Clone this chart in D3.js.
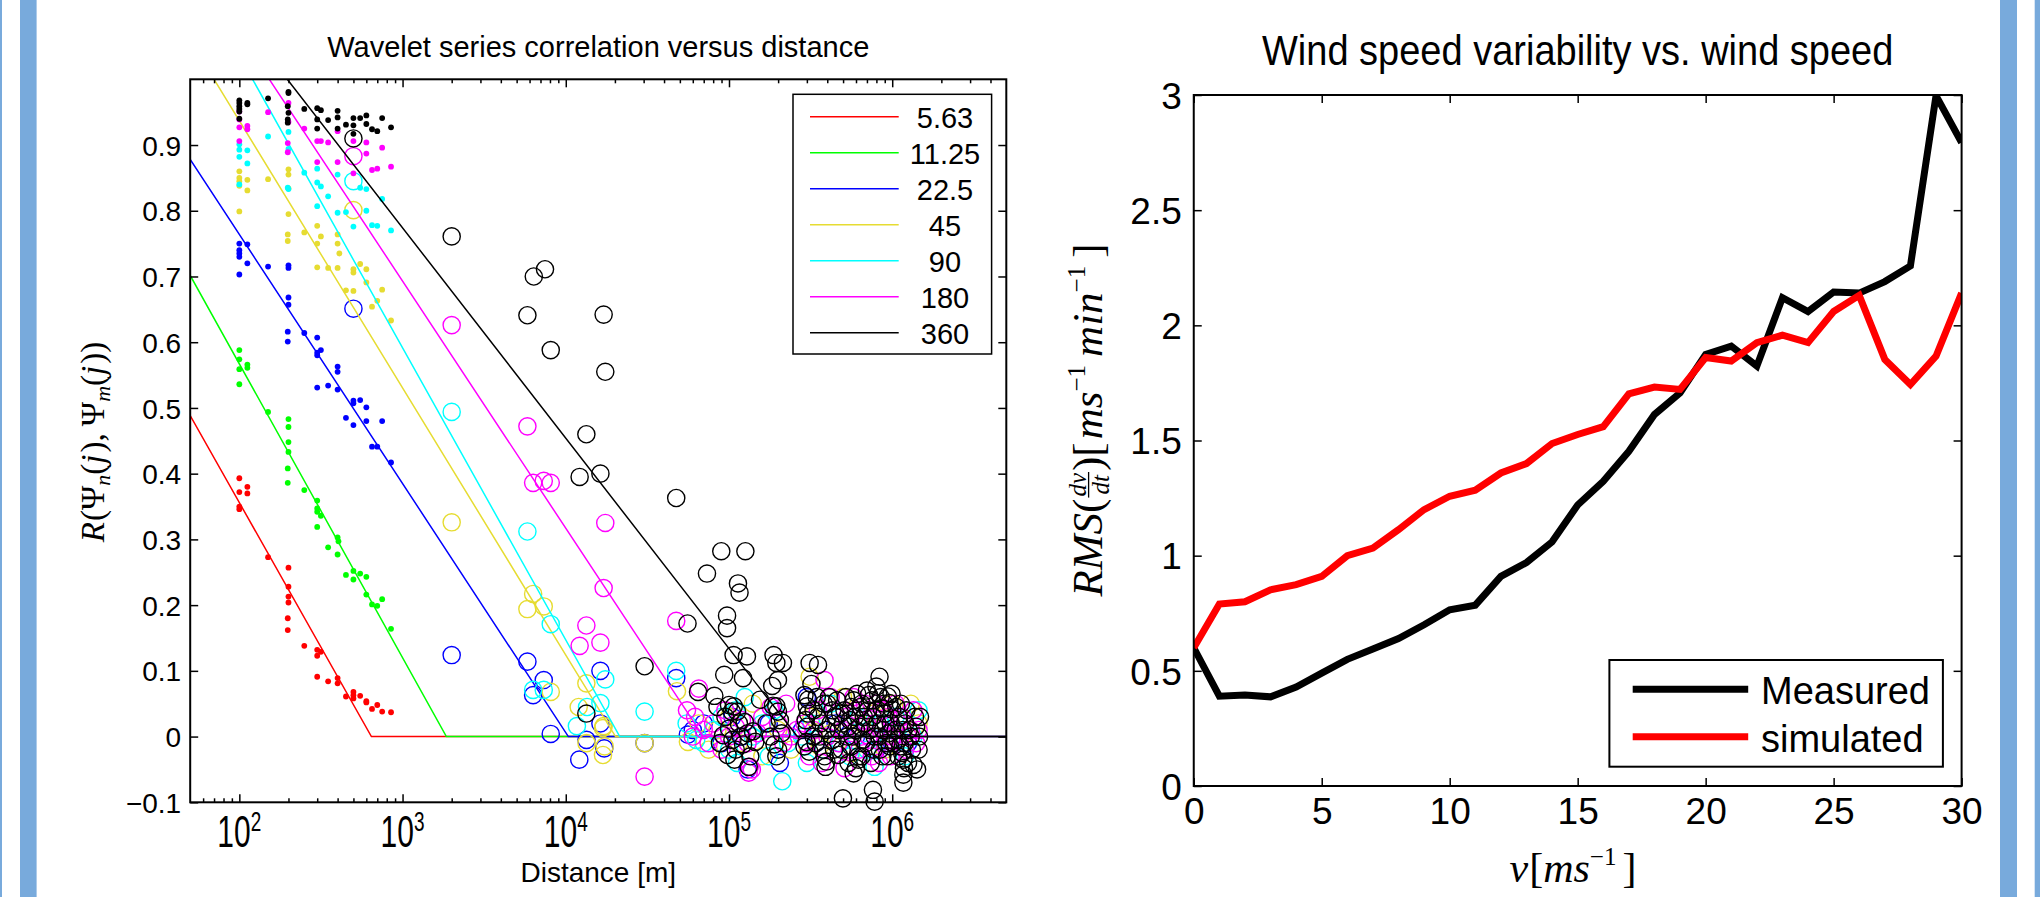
<!DOCTYPE html>
<html><head><meta charset="utf-8">
<script src="https://cdn.jsdelivr.net/npm/d3@7"></script>
<style>
body{margin:0;background:#fff;}
svg{display:block;}
text{fill:#000;}
</style>
</head><body>
<svg id="c" width="2040" height="897" font-family="'Liberation Sans',Arial,sans-serif"></svg>
<script>
// ---------------- DATA ----------------
const scaleNames = ["5.63","11.25","22.5","45","90","180","360"];
const seriesColors = ["#ff0000","#00ff00","#0000ff","#e6dc32","#00ffff","#ff00ff","#000000"];
// regression fits: value = intercept - slope*log10(d), floored at 0
const fitIntercept = [1.236,1.461,1.522,1.750,1.925,1.821,1.734];
const fitSlope = [0.440,0.447,0.379,0.4065,0.4445,0.376,0.320];

const dotsRed = [[100,0.393],[100,0.372],[100,0.350],[100,0.346],[112,0.380],[112,0.370],[150,0.273],[200,0.257],[200,0.228],[200,0.213],[200,0.204],[198,0.180],[198,0.162],[250,0.138],[300,0.132],[300,0.123],[300,0.091],[316,0.129],[350,0.084],[400,0.089],[400,0.081],[450,0.061],[500,0.068],[500,0.063],[500,0.058],[550,0.062],[600,0.054],[600,0.052],[650,0.042],[700,0.048],[750,0.038],[850,0.037]];
const dotsGreen = [[100,0.588],[100,0.574],[100,0.559],[100,0.536],[112,0.566],[112,0.561],[150,0.494],[200,0.483],[200,0.471],[200,0.448],[200,0.433],[198,0.408],[198,0.386],[250,0.375],[300,0.359],[300,0.347],[300,0.342],[300,0.319],[316,0.336],[350,0.288],[400,0.303],[405,0.297],[400,0.277],[450,0.246],[500,0.252],[500,0.239],[550,0.248],[600,0.243],[600,0.216],[650,0.201],[700,0.199],[750,0.209],[850,0.164]];
const dotsBlue = [[100,0.750],[100,0.740],[100,0.735],[100,0.730],[100,0.703],[112,0.749],[112,0.720],[150,0.715],[200,0.717],[200,0.713],[200,0.668],[200,0.657],[198,0.616],[198,0.601],[250,0.614],[300,0.607],[300,0.584],[300,0.580],[300,0.531],[316,0.588],[350,0.534],[400,0.563],[400,0.555],[400,0.528],[450,0.485],[500,0.511],[500,0.507],[500,0.474],[550,0.512],[600,0.501],[600,0.480],[650,0.441],[700,0.441],[750,0.480],[850,0.417]];
const dotsYellow = [[100,0.860],[100,0.850],[100,0.845],[100,0.838],[100,0.799],[112,0.847],[112,0.831],[150,0.848],[200,0.863],[200,0.855],[200,0.834],[200,0.795],[198,0.764],[198,0.754],[250,0.767],[300,0.777],[300,0.750],[300,0.714],[316,0.761],[350,0.713],[400,0.764],[400,0.750],[400,0.713],[410,0.735],[450,0.679],[500,0.711],[500,0.706],[500,0.678],[550,0.719],[600,0.711],[600,0.691],[650,0.654],[700,0.663],[750,0.680],[850,0.633]];
const dotsCyan = [[100,0.901],[100,0.893],[100,0.882],[100,0.840],[112,0.892],[112,0.872],[150,0.913],[200,0.920],[200,0.894],[198,0.835],[200,0.833],[250,0.858],[300,0.864],[300,0.807],[300,0.843],[316,0.837],[350,0.822],[400,0.855],[400,0.797],[450,0.798],[500,0.776],[550,0.835],[600,0.833],[600,0.800],[650,0.778],[700,0.777],[750,0.818],[850,0.770]];
const dotsMagenta = [[100,0.951],[100,0.939],[100,0.927],[100,0.906],[112,0.929],[112,0.924],[150,0.950],[200,0.964],[200,0.935],[198,0.903],[198,0.889],[250,0.925],[300,0.906],[300,0.874],[316,0.906],[350,0.904],[400,0.921],[400,0.874],[500,0.857],[500,0.906],[600,0.904],[600,0.887],[650,0.862],[700,0.864],[750,0.896],[850,0.867]];
const dotsBlack = [[100,0.968],[100,0.964],[100,0.959],[100,0.955],[100,0.951],[100,0.940],[112,0.964],[112,0.962],[150,0.971],[200,0.981],[200,0.979],[198,0.959],[200,0.949],[198,0.939],[198,0.934],[250,0.955],[300,0.956],[300,0.939],[300,0.925],[316,0.953],[350,0.938],[400,0.952],[400,0.942],[400,0.925],[450,0.931],[500,0.941],[500,0.930],[500,0.917],[550,0.941],[600,0.945],[600,0.932],[650,0.924],[700,0.921],[750,0.941],[850,0.927]];

const circlesRed = [];
const circlesGreen = [];
const circlesBlue = [[500,0.651],[2000,0.124],[5820,0.114],[7330,0.086],[6310,0.063],[8090,0.004],[12100,-0.035],[17200,-0.018],[13400,-0.005],[16300,0.020],[16300,0.100],[47500,0.089],[30400,-0.010],[56000,0.003],[60000,0.010],[70000,0.020],[90000,-0.010],[105000,0.030],[120000,0.000],[130000,-0.050],[175000,0.020],[205000,-0.040],[280000,0.010],[300000,0.060],[340000,-0.010],[450000,0.020],[600000,0.000],[800000,-0.020],[1000000,0.010],[1250000,-0.010]];
const circlesYellow = [[500,0.801],[2000,0.326],[6310,0.217],[5820,0.194],[7330,0.198],[8090,0.068],[13370,0.081],[12000,0.045],[13400,-0.010],[17060,0.016],[16900,0.013],[17300,-0.015],[16900,-0.028],[30400,-0.010],[48000,0.069],[56000,-0.008],[65000,0.020],[75000,-0.020],[85000,0.010],[100000,0.030],[115000,-0.010],[140000,0.050],[160000,-0.030],[200000,0.010],[240000,-0.020],[312000,0.091],[320000,0.030],[360000,-0.015],[420000,0.005],[500000,0.060],[560000,-0.025],[650000,0.020],[760000,0.035],[900000,-0.020],[1000000,0.050],[1150000,0.000],[1300000,0.050],[1450000,0.020]];
const circlesCyan = [[500,0.845],[2000,0.494],[5820,0.312],[8090,0.171],[6310,0.071],[7330,0.071],[11700,0.016],[13500,0.045],[16300,0.051],[17460,0.087],[30400,0.038],[47500,0.100],[63000,-0.005],[55000,0.020],[70000,-0.010],[80000,0.010],[90000,0.030],[100000,-0.020],[110000,0.040],[112000,-0.040],[125000,0.060],[140000,0.000],[160000,0.020],[175000,-0.030],[190000,0.040],[212000,-0.068],[230000,-0.010],[280000,0.000],[300000,-0.040],[320000,0.020],[380000,-0.020],[420000,0.050],[480000,-0.010],[550000,-0.030],[620000,0.030],[700000,-0.020],[780000,-0.046],[850000,0.020],[950000,-0.010],[1050000,0.030],[1200000,-0.030],[1350000,0.000],[1450000,0.040]];
const circlesMagenta = [[500,0.883],[2000,0.626],[5820,0.472],[6310,0.386],[7330,0.389],[8090,0.386],[17460,0.325],[17060,0.226],[13370,0.169],[12160,0.138],[16300,0.143],[30400,-0.061],[47500,0.176],[55300,0.040],[65300,0.073],[60000,0.000],[62000,0.030],[70000,0.010],[75000,-0.010],[80000,0.020],[90000,-0.020],[95000,0.040],[100000,0.000],[110000,0.015],[120000,0.025],[130000,-0.010],[134000,-0.046],[138000,-0.050],[132000,-0.055],[150000,0.005],[160000,0.030],[180000,0.045],[200000,0.020],[215000,-0.010],[224000,0.050],[240000,0.000],[260000,0.010],[290000,0.020],[300000,-0.010],[310000,-0.030],[350000,0.040],[385000,0.086],[400000,0.000],[450000,0.030],[500000,0.010],[510000,-0.048],[550000,-0.020],[600000,0.040],[650000,0.000],[700000,0.020],[750000,-0.030],[800000,0.050],[850000,0.010],[900000,-0.010],[950000,0.030],[1000000,0.000],[1100000,0.020],[1200000,-0.020],[1300000,0.010],[1400000,-0.010],[1450000,0.010],
[420000,0.060],[470000,-0.010],[530000,0.030],[580000,0.060],[630000,-0.020],[680000,0.050],[720000,0.000],[780000,0.020],[830000,-0.040],[880000,0.040],[920000,0.000],[980000,-0.030],[1050000,0.050],[1150000,0.030],[1250000,0.000],[1350000,0.040],[330000,0.010],[370000,-0.040]];
const circlesBlack = [[500,0.910],[2000,0.761],[6370,0.700],[7460,0.711],[5820,0.641],[8090,0.588],[17060,0.642],[17460,0.555],[13370,0.460],[12160,0.395],[16300,0.400],[47500,0.363],[89700,0.282],[126000,0.282],[73300,0.248],[113500,0.233],[116000,0.219],[97300,0.184],[97300,0.165],[55700,0.172],[106700,0.124],[128800,0.122],[30400,0.107],[93500,0.094],[121900,0.089],[81300,0.062],[64600,0.068],[13370,0.035],[187500,0.124],[195000,0.112],[214000,0.112],[199500,0.086],[184000,0.077],[154900,0.056],[186000,0.047],[195000,0.046],[199500,0.038],[100000,0.048],[107000,0.046],[104000,0.038],[112000,0.038],
[85000,0.045],[95000,0.030],[100000,0.012],[105000,-0.005],[110000,-0.020],[98000,-0.028],[118000,0.000],[122000,-0.012],[130000,0.005],[135000,-0.030],[140000,0.008],[125000,0.022],[115000,0.020],[145000,-0.008],[92000,0.002],[88000,-0.010],[108000,-0.035],[132000,-0.046],
[170000,0.020],[180000,0.000],[190000,-0.012],[200000,-0.020],[210000,0.005],[195000,-0.030],[205000,0.025],
[290000,0.063],[300000,0.046],[305000,0.035],[295000,0.025],[300000,0.015],[298000,-0.008],[290000,-0.015],[310000,-0.023],[305000,0.056],[312000,0.112],[351000,0.109],[350000,0.030],[360000,0.000],[377000,-0.020],[385000,-0.030],[395000,-0.038],[390000,-0.046],[330000,0.040],[340000,-0.010],
[400000,0.050],[420000,0.020],[430000,-0.005],[450000,0.030],[470000,0.010],[490000,-0.020],[510000,0.040],[530000,0.000],[550000,0.025],[560000,-0.015],[580000,0.055],[600000,0.010],[620000,-0.030],[640000,0.045],[660000,-0.005],[680000,0.020],[700000,0.070],[720000,0.063],[740000,-0.040],[760000,0.030],[780000,0.000],[800000,0.076],[820000,0.066],[840000,-0.020],[860000,0.043],[880000,0.010],[900000,0.035],[920000,-0.010],[940000,0.061],[960000,0.051],[980000,0.020],[1000000,0.041],[580000,-0.056],[600000,-0.048],[620000,-0.035],[650000,-0.030],[540000,-0.040],[470000,-0.028],[440000,-0.020],[499000,-0.094],[762000,-0.081],[780000,-0.099],[836000,0.091],
[1050000,0.010],[1080000,-0.005],[1100000,0.030],[1120000,-0.015],[1150000,-0.025],[1170000,-0.035],[1180000,-0.048],[1170000,-0.058],[1170000,-0.070],[1200000,0.020],[1250000,-0.040],[1300000,0.000],[1350000,-0.043],[1400000,0.015],[1450000,-0.020],
[410000,0.060],[430000,0.040],[460000,0.055],[480000,0.035],[500000,0.020],[520000,0.060],[540000,0.015],[560000,0.045],[570000,0.000],[590000,0.030],[610000,0.065],[630000,0.015],[650000,0.050],[670000,0.030],[690000,-0.010],[710000,0.040],[730000,0.010],[750000,0.055],[770000,-0.020],[790000,0.040],[810000,0.020],[830000,0.000],[850000,0.060],[870000,-0.030],[890000,0.050],[910000,0.020],[930000,-0.030],[950000,0.005],[970000,-0.015],[990000,0.065],[320000,0.080],[330000,0.000],[345000,0.060],[365000,0.020],[380000,0.050],[395000,0.010],[1020000,-0.010],[1060000,0.045],[1090000,-0.030],[1130000,0.050],[1160000,0.010],[1190000,-0.010],[1220000,0.040],[1260000,0.010],[1320000,-0.020],[1380000,0.030],[1420000,-0.050],[1460000,0.000],[1480000,0.030]];

const leftYTicks = [-0.1,0,0.1,0.2,0.3,0.4,0.5,0.6,0.7,0.8,0.9];
const leftXExponents = [2,3,4,5,6];
const leftMinorTicks = [60,70,80,90,200,300,400,500,600,700,800,900,2e3,3e3,4e3,5e3,6e3,7e3,8e3,9e3,2e4,3e4,4e4,5e4,6e4,7e4,8e4,9e4,2e5,3e5,4e5,5e5,6e5,7e5,8e5,9e5,2e6,3e6,4e6];

const windSpeed = [0,1,2,3,4,5,6,7,8,9,10,11,12,13,14,15,16,17,18,19,20,21,22,23,24,25,26,27,28,29,30];
const measured = [0.60,0.39,0.395,0.387,0.43,0.49,0.55,0.595,0.64,0.70,0.765,0.785,0.91,0.97,1.06,1.22,1.323,1.453,1.613,1.707,1.874,1.91,1.823,2.12,2.06,2.145,2.14,2.19,2.258,2.997,2.794];
const simulated = [0.60,0.79,0.80,0.852,0.874,0.91,1.00,1.033,1.113,1.20,1.258,1.284,1.359,1.40,1.487,1.526,1.56,1.703,1.732,1.722,1.86,1.845,1.925,1.957,1.925,2.06,2.13,1.852,1.743,1.866,2.14];
const rightXTicks = [0,5,10,15,20,25,30];
const rightYTicks = [0,0.5,1,1.5,2,2.5,3];
const rightLegend = ["Measured","simulated"];
const rightColors = ["#000000","#ff0000"];

// ---------------- DRAW ----------------
const SANS = "'Liberation Sans',Arial,sans-serif";
const SERIF = "'Liberation Serif','Times New Roman',serif";
const svg = d3.select("#c");
svg.append("rect").attr("width",2040).attr("height",897).attr("fill","#fff");
const barC = "#78aadc";
svg.append("rect").attr("x",0).attr("y",0).attr("width",2).attr("height",897).attr("fill",barC);
svg.append("rect").attr("x",20).attr("y",0).attr("width",16.6).attr("height",897).attr("fill",barC);
svg.append("rect").attr("x",2000).attr("y",0).attr("width",17).attr("height",897).attr("fill",barC);
svg.append("rect").attr("x",2034.7).attr("y",0).attr("width",5.3).attr("height",897).attr("fill",barC);

function styleAxis(g, fs){
  g.select(".domain").remove();
  g.selectAll(".tick line").attr("stroke","#000").attr("stroke-width",1.5);
  g.selectAll(".tick text").attr("fill","#000")
    .style("font-size",fs+"px").style("font-family",SANS);
}

// ===== LEFT PANEL =====
const L = {x0:190.2, x1:1006.3, y0:79.3, y1:802.3};
const x = d3.scaleLog().domain([50,5e6]).range([L.x0,L.x1]);
const y = d3.scaleLinear().domain([-0.1,1]).range([L.y1,L.y0]);
const left = svg.append("g");

const defs = svg.append("defs");
defs.append("clipPath").attr("id","clipL")
  .append("rect").attr("x",L.x0).attr("y",L.y0).attr("width",L.x1-L.x0).attr("height",L.y1-L.y0);

const dotsAll = [dotsRed,dotsGreen,dotsBlue,dotsYellow,dotsCyan,dotsMagenta,dotsBlack];
const circAll = [circlesRed,circlesGreen,circlesBlue,circlesYellow,circlesCyan,circlesMagenta,circlesBlack];

scaleNames.forEach((nm,i)=>{
  const col = seriesColors[i];
  const g = left.append("g");
  g.selectAll("circle.dot").data(dotsAll[i]).join("circle").attr("class","dot")
    .attr("cx",d=>x(d[0])).attr("cy",d=>y(d[1])).attr("r",2.9).attr("fill",col);
  g.selectAll("circle.ring").data(circAll[i]).join("circle").attr("class","ring")
    .attr("cx",d=>x(d[0])).attr("cy",d=>y(d[1])).attr("r",8.6)
    .attr("fill","none").attr("stroke",col).attr("stroke-width",1.4);
  const a = fitIntercept[i], b = fitSlope[i];
  const dz = Math.pow(10, a/b);
  const pts = [50, dz, 5e6].map(d=>[d, Math.max(0, a - b*Math.log10(d))]);
  g.append("path").attr("clip-path","url(#clipL)")
    .attr("d", d3.line().x(d=>x(d[0])).y(d=>y(d[1]))(pts))
    .attr("fill","none").attr("stroke",col).attr("stroke-width",1.5);
});

const gyl = left.append("g").attr("transform",`translate(${L.x0},0)`)
  .call(d3.axisLeft(y).tickValues(leftYTicks).tickSize(-8).tickSizeOuter(0).tickPadding(9).tickFormat(d3.format("")));
styleAxis(gyl,28);
gyl.selectAll(".tick text").attr("dy","0.36em");
const gyr = left.append("g").attr("transform",`translate(${L.x1},0)`)
  .call(d3.axisRight(y).tickValues(leftYTicks).tickSize(-8).tickSizeOuter(0).tickFormat(""));
styleAxis(gyr,28);
[[d3.axisBottom, L.y1],[d3.axisTop, L.y0]].forEach(([ax,yy])=>{
  const gM = left.append("g").attr("transform",`translate(0,${yy})`)
    .call(ax(x).tickValues(leftXExponents.map(e=>Math.pow(10,e))).tickSize(-8).tickSizeOuter(0).tickFormat(""));
  styleAxis(gM,28);
  const gm = left.append("g").attr("transform",`translate(0,${yy})`)
    .call(ax(x).tickValues(leftMinorTicks).tickSize(-4).tickSizeOuter(0).tickFormat(""));
  styleAxis(gm,28);
});
left.append("rect").attr("x",L.x0).attr("y",L.y0).attr("width",L.x1-L.x0).attr("height",L.y1-L.y0)
  .attr("fill","none").attr("stroke","#000").attr("stroke-width",2);

leftXExponents.forEach(e=>{
  const t = left.append("text")
    .attr("transform",`translate(${x(Math.pow(10,e))},846.7) scale(1,1.45)`)
    .attr("text-anchor","middle").style("font-size","30px").style("font-family",SANS);
  t.append("tspan").text("10");
  t.append("tspan").style("font-size","19px").attr("dy",-11).text(String(e));
});

left.append("text").attr("x",(L.x0+L.x1)/2).attr("y",57).attr("text-anchor","middle")
  .style("font-size","29px").style("font-family",SANS).text("Wavelet series correlation versus distance");
left.append("text").attr("x",(L.x0+L.x1)/2).attr("y",881.7).attr("text-anchor","middle")
  .style("font-size","28px").style("font-family",SANS).text("Distance [m]");

const lg = left.append("g");
lg.append("rect").attr("x",793).attr("y",94.3).attr("width",198.6).attr("height",259.7)
  .attr("fill","#fff").attr("stroke","#000").attr("stroke-width",1.5);
scaleNames.forEach((nm,i)=>{
  const yy = 116.7 + 36*i;
  lg.append("line").attr("x1",810).attr("x2",898.7).attr("y1",yy).attr("y2",yy)
    .attr("stroke",seriesColors[i]).attr("stroke-width",1.5);
  lg.append("text").attr("x",945).attr("y",yy+11.6).attr("text-anchor","middle")
    .style("font-size","29px").style("font-family",SANS).text(nm);
});

function mathLabel(g, pieces, fs){
  const inner = g.append("g");
  let cx = 0;
  pieces.forEach(p=>{
    if (p.frac){
      const s = p.size;
      const n = inner.append("text").style("font-family",SERIF).style("font-style","italic")
        .style("font-size",s+"px").attr("text-anchor","middle").text(p.frac[0]);
      const d = inner.append("text").style("font-family",SERIF).style("font-style","italic")
        .style("font-size",s+"px").attr("text-anchor","middle").text(p.frac[1]);
      const w = Math.max(n.node().getComputedTextLength(), d.node().getComputedTextLength()) + 4;
      n.attr("x",cx+w/2).attr("y",-fs*0.3-3);
      d.attr("x",cx+w/2).attr("y",-fs*0.3+s*0.72+2);
      inner.append("line").attr("x1",cx+1).attr("x2",cx+w-1).attr("y1",-fs*0.3).attr("y2",-fs*0.3)
        .attr("stroke","#000").attr("stroke-width",1.3);
      cx += w;
    } else {
      const t = inner.append("text").attr("x",cx).attr("y",p.dy||0)
        .style("font-family",SERIF)
        .style("font-style",p.i?"italic":"normal")
        .style("font-size",(p.size||fs)+"px").text(p.t);
      cx += t.node().getComputedTextLength() + (p.sp||0);
    }
  });
  inner.attr("transform",`translate(${-cx/2},0)`);
  return cx;
}

const ylab = left.append("g").attr("transform","translate(103.6,442) rotate(-90)");
mathLabel(ylab,[
  {t:"R",i:true,sp:1},{t:"("},{t:"Ψ"},{t:"n",i:true,size:22,dy:6},{t:"("},{t:"j",i:true,sp:2},{t:"),",sp:7},
  {t:"Ψ"},{t:"m",i:true,size:22,dy:6},{t:"("},{t:"j",i:true,sp:2},{t:"))"}
],33);

// ===== RIGHT PANEL =====
const R = {x0:1193.75, x1:1961.6, y0:95, y1:786};
const xr = d3.scaleLinear().domain([0,30]).range([R.x0,R.x1]);
const yr = d3.scaleLinear().domain([0,3]).range([R.y1,R.y0]);
const right = svg.append("g");
defs.append("clipPath").attr("id","clipR")
  .append("rect").attr("x",R.x0).attr("y",R.y0-5).attr("width",R.x1-R.x0).attr("height",R.y1-R.y0+5);

[measured, simulated].forEach((ser,k)=>{
  right.append("path").attr("clip-path","url(#clipR)")
    .attr("d", d3.line().x((d,i)=>xr(windSpeed[i])).y(d=>yr(d))(ser))
    .attr("fill","none").attr("stroke",rightColors[k]).attr("stroke-width",7)
    .attr("stroke-linejoin","miter").attr("stroke-miterlimit",3);
});

const gxb = right.append("g").attr("transform",`translate(0,${R.y1})`)
  .call(d3.axisBottom(xr).tickValues(rightXTicks).tickSize(-8).tickSizeOuter(0).tickPadding(11).tickFormat(d3.format("")));
styleAxis(gxb,37);
gxb.selectAll(".tick text").attr("dy","0.72em");
const gxt = right.append("g").attr("transform",`translate(0,${R.y0})`)
  .call(d3.axisTop(xr).tickValues(rightXTicks).tickSize(-8).tickSizeOuter(0).tickFormat(""));
styleAxis(gxt,37);
const gyl2 = right.append("g").attr("transform",`translate(${R.x0},0)`)
  .call(d3.axisLeft(yr).tickValues(rightYTicks).tickSize(-8).tickSizeOuter(0).tickPadding(12).tickFormat(d3.format("")));
styleAxis(gyl2,37);
gyl2.selectAll(".tick text").attr("dy","0.36em");
const gyr2 = right.append("g").attr("transform",`translate(${R.x1},0)`)
  .call(d3.axisRight(yr).tickValues(rightYTicks).tickSize(-8).tickSizeOuter(0).tickFormat(""));
styleAxis(gyr2,37);
right.append("rect").attr("x",R.x0).attr("y",R.y0).attr("width",R.x1-R.x0).attr("height",R.y1-R.y0)
  .attr("fill","none").attr("stroke","#000").attr("stroke-width",2);

right.append("text").attr("transform",`translate(${(R.x0+R.x1)/2},65) scale(1,1.1)`)
  .attr("text-anchor","middle").style("font-size","38px").style("font-family",SANS)
  .text("Wind speed variability vs. wind speed");

const rl = right.append("g");
rl.append("rect").attr("x",1609.4).attr("y",660).attr("width",333.5).attr("height",106.7)
  .attr("fill","#fff").attr("stroke","#000").attr("stroke-width",2);
rightLegend.forEach((nm,k)=>{
  const yy = [689.3,736.7][k];
  rl.append("line").attr("x1",1632.7).attr("x2",1748.2).attr("y1",yy).attr("y2",yy)
    .attr("stroke",rightColors[k]).attr("stroke-width",7);
  rl.append("text").attr("x",1761).attr("y",[704,751.7][k])
    .style("font-size","38px").style("font-family",SANS).text(nm);
});

const xlab = right.append("g").attr("transform","translate(1573,881.7)");
mathLabel(xlab,[{t:"v",i:true,sp:1},{t:"["},{t:"ms",i:true},{t:"−1",size:25,dy:-17,sp:6},{t:"]"}],42);

const ylab2 = right.append("g").attr("transform","translate(1101.5,420) rotate(-90)");
mathLabel(ylab2,[
  {t:"RMS",i:true},{t:"("},{frac:["dv","dt"],size:25},{t:")"},{t:"[",sp:3},{t:"ms",i:true},
  {t:"−1",size:25,dy:-17,sp:8},{t:"min",i:true},{t:"−1",size:25,dy:-17,sp:8},{t:"]"}
],43);
</script>
</body></html>
